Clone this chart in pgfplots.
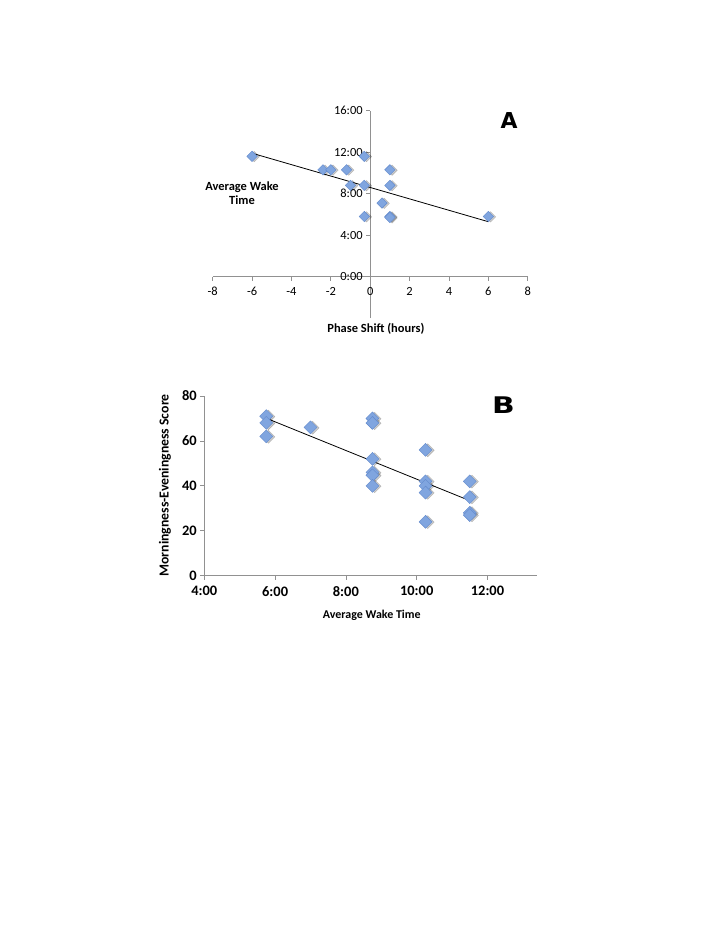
\documentclass[border=0pt]{standalone}
\usepackage{fontspec}
\setmainfont{Carlito}
\newfontfamily\dejavu{DejaVu Sans}
\usepackage{pgfplots}
\pgfplotsset{compat=1.18}

\definecolor{ptfill}{RGB}{128,165,223}
\definecolor{ptedge}{RGB}{98,138,204}
\definecolor{axgray}{RGB}{145,145,145}

\pgfplotsset{
  wake/.style={
    scale only axis, clip=false,
    tick align=outside, major tick length=4bp,
    axis line style={axgray, line width=0.7bp},
    tick style={axgray, line width=0.7bp},
    hide obscured x ticks=false, hide obscured y ticks=false,
  },
  shadowpts/.style={only marks, mark=square*,
    mark options={rotate=45, fill=black, draw=none, opacity=0.2, xshift=1.3bp, yshift=-1.8bp}},
  pts/.style={only marks, mark=square*,
    mark options={rotate=45, fill=ptfill, draw=ptedge, line width=0.4bp}},
}

\begin{document}
\begin{tikzpicture}
\path[use as bounding box] (0,0) rectangle (728bp,942bp);

% ---- panel A: wake time vs phase shift
\begin{axis}[wake,
  width=315bp, height=207.5bp,
  at={(212.7bp,623.8bp)}, anchor=south west,
  xmin=-8, xmax=8, ymin=-4, ymax=16,
  axis lines*=middle,
  xtick={-8,-6,-4,-2,0,2,4,6,8},
  xticklabels={-8,-6,-4,-2,0,2,4,6,8},
  ytick={0,4,8,12,16},
  yticklabels={0:00,4:00,8:00,12:00,16:00},
  ticklabel style={font=\fontsize{12.5}{13}\selectfont},
  xticklabel style={yshift=-3bp},
  xlabel={Phase Shift (hours)},
  ylabel={Average Wake\\Time},
  every axis x label/.style={at={(axis description cs:0.518,-0.0535)}, anchor=center,
    font=\bfseries\fontsize{12.5}{13}\selectfont},
  every axis y label/.style={at={(axis description cs:0.093,0.601)}, anchor=center, align=center,
    font=\bfseries\fontsize{12.5}{14}\selectfont},
  mark size=3.7bp,
]
\addplot[shadowpts] coordinates {
  (-6,11.6) (-2.4,10.3) (-2.0,10.3) (-1.2,10.3) (-1.0,8.8) (-0.3,11.6) (-0.3,8.8)
  (-0.3,5.8) (0.6,7.1) (1.0,10.3) (1.0,8.8) (1.0,5.8) (1.0,5.7) (6.0,5.8)
};
\addplot[pts] coordinates {
  (-6,11.6) (-2.4,10.3) (-2.0,10.3) (-1.2,10.3) (-1.0,8.8) (-0.3,11.6) (-0.3,8.8)
  (-0.3,5.8) (0.6,7.1) (1.0,10.3) (1.0,8.8) (1.0,5.8) (1.0,5.7) (6.0,5.8)
};
\addplot[black, line width=0.8bp, no marks] coordinates {(-6,11.9) (6,5.3)};
\node[font=\dejavu\bfseries\fontsize{22}{22}\selectfont] at (axis description cs:0.941,0.955) {A};
\end{axis}

% ---- panel B: morningness-eveningness vs wake time
\begin{axis}[wake,
  width=332.4bp, height=179.7bp,
  at={(204.3bp,366.3bp)}, anchor=south west,
  xmin=4, xmax=13.39, ymin=0, ymax=80,
  axis lines*=left,
  xtick={4,6,8,10,12},
  xticklabels={4:00,6:00,8:00,10:00,12:00},
  ytick={0,20,40,60,80},
  yticklabels={0,20,40,60,80},
  ticklabel style={font=\bfseries\fontsize{14.5}{15}\selectfont},
  xticklabel style={yshift=-3bp},
  xlabel={Average Wake Time},
  ylabel={Morningness-Eveningness Score},
  every axis x label/.style={at={(axis description cs:0.504,-0.219)}, anchor=center,
    font=\bfseries\fontsize{12}{12}\selectfont},
  every axis y label/.style={at={(axis description cs:-0.118,0.502)}, anchor=center, rotate=90,
    font=\bfseries\fontsize{13.8}{14}\selectfont},
  mark size=4.6bp,
]
\addplot[shadowpts] coordinates {
  (5.75,71) (5.75,68) (5.75,62) (7.0,66)
  (8.75,70) (8.75,68) (8.75,52) (8.75,46) (8.75,44.7) (8.75,40)
  (10.25,56) (10.25,42) (10.25,40) (10.25,37) (10.25,24)
  (11.5,42) (11.5,35) (11.5,28) (11.5,27)
};
\addplot[pts] coordinates {
  (5.75,71) (5.75,68) (5.75,62) (7.0,66)
  (8.75,70) (8.75,68) (8.75,52) (8.75,46) (8.75,44.7) (8.75,40)
  (10.25,56) (10.25,42) (10.25,40) (10.25,37) (10.25,24)
  (11.5,42) (11.5,35) (11.5,28) (11.5,27)
};
\addplot[black, line width=0.8bp, no marks] coordinates {(5.75,70.1) (11.5,33.4)};
\node[font=\dejavu\bfseries\fontsize{23}{23}\selectfont, xscale=1.3] at (axis description cs:0.9,0.95) {B};
\end{axis}
\end{tikzpicture}
\end{document}
